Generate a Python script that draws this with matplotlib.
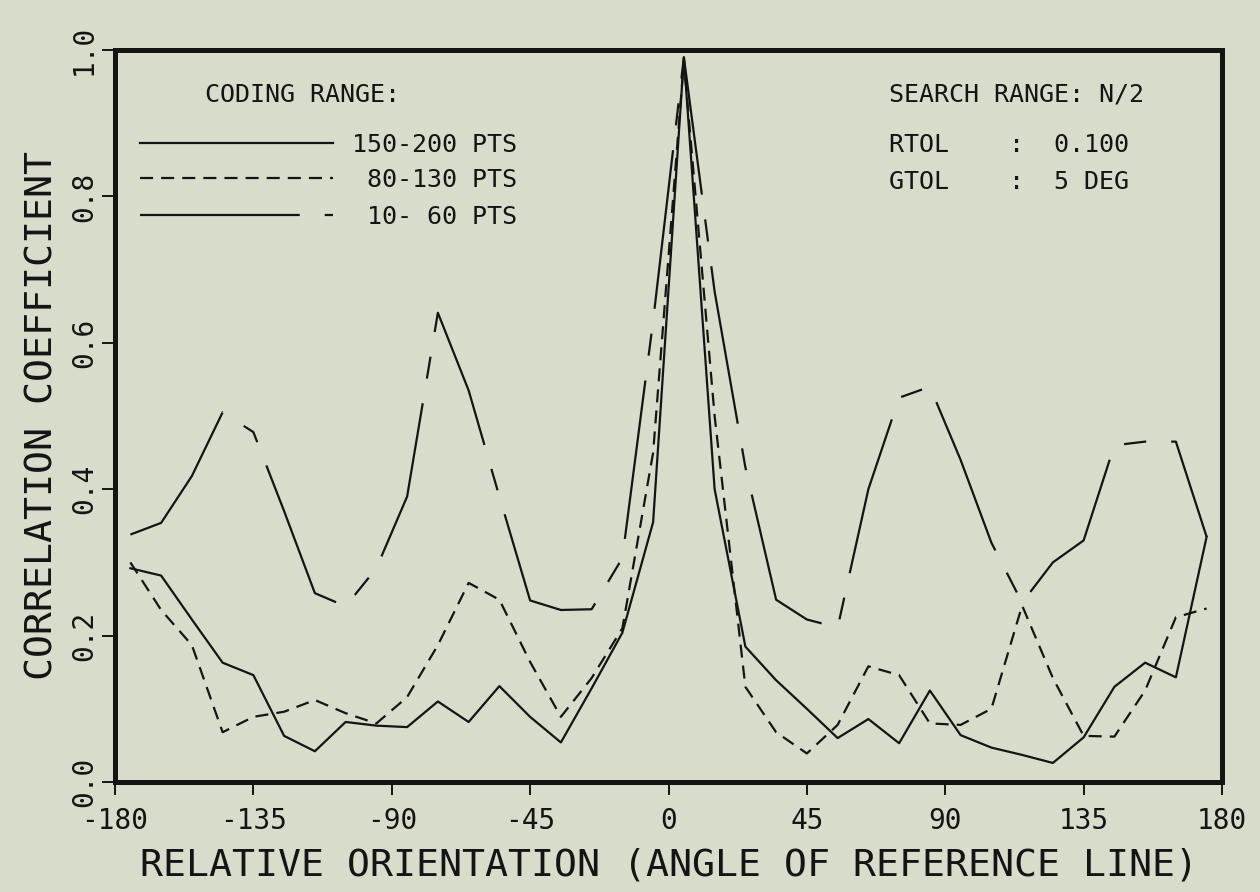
import matplotlib
matplotlib.use("Agg")
import matplotlib.pyplot as plt

# Vinkel (grader), var tionde grad från -175 till 175
angles = [-175, -165, -155, -145, -135, -125, -115, -105, -95, -85,
          -75, -65, -55, -45, -35, -25, -15, -5, 5, 15,
          25, 35, 45, 55, 65, 75, 85, 95, 105, 115,
          125, 135, 145, 155, 165, 175]

# Korrelationskoefficient för varje kodningsintervall
corr_150_200 = [0.292, 0.282, 0.222, 0.163, 0.146, 0.063, 0.042, 0.082, 0.077, 0.075,
                0.110, 0.082, 0.131, 0.089, 0.054, 0.128, 0.204, 0.355, 0.990, 0.400,
                0.185, 0.139, 0.100, 0.060, 0.086, 0.053, 0.125, 0.064, 0.047, 0.037,
                0.026, 0.061, 0.130, 0.163, 0.143, 0.335]

corr_80_130 = [0.300, 0.235, 0.187, 0.068, 0.089, 0.096, 0.112, 0.094, 0.080, 0.116,
               0.187, 0.272, 0.249, 0.164, 0.089, 0.142, 0.210, 0.450, 0.985, 0.500,
               0.130, 0.068, 0.039, 0.078, 0.158, 0.146, 0.080, 0.078, 0.100, 0.241,
               0.142, 0.063, 0.062, 0.125, 0.225, 0.237]

corr_10_60 = [0.338, 0.354, 0.418, 0.505, 0.478, 0.370, 0.258, 0.240, 0.292, 0.390,
              0.641, 0.535, 0.390, 0.248, 0.235, 0.236, 0.306, 0.630, 0.990, 0.670,
              0.430, 0.249, 0.222, 0.211, 0.400, 0.525, 0.540, 0.440, 0.327, 0.245,
              0.300, 0.330, 0.460, 0.465, 0.465, 0.335]

series_labels = ["150-200 PTS", " 80-130 PTS", " 10- 60 PTS"]
x_ticks = [-180, -135, -90, -45, 0, 45, 90, 135, 180]
y_ticks = [0.0, 0.2, 0.4, 0.6, 0.8, 1.0]

BG = "#d8dccb"
INK = "#141414"
FONT = "DejaVu Sans Mono"


def px_to_axes(px, py):
    """Omvandla pixelposition i figuren till axelkoordinater."""
    return (px - 115) / 1107.0, (782 - py) / 732.0


def plot_graph():
    plt.rcParams['font.family'] = FONT
    plt.rcParams['lines.scale_dashes'] = False

    fig = plt.figure(figsize=(12.6, 8.92), dpi=100, facecolor=BG)
    ax = fig.add_axes([115 / 1260, 1 - 782 / 892, 1107 / 1260, 732 / 892])
    ax.set_facecolor(BG)

    styles = [
        dict(linestyle='-'),
        dict(linestyle=(0, (9.4, 5.8))),
        dict(linestyle=(0, (115, 18, 16, 18))),
    ]
    series = [corr_150_200, corr_80_130, corr_10_60]

    for values, style in zip(series, styles):
        ax.plot(angles, values, color=INK, linewidth=1.6, **style)

    ax.set_xlim(-180, 180)
    ax.set_ylim(0, 1.0)
    ax.set_xticks(x_ticks)
    ax.set_xticklabels([str(t) for t in x_ticks])
    ax.set_yticks(y_ticks)
    ax.set_yticklabels([f"{t:.1f}" for t in y_ticks])

    for side in ax.spines.values():
        side.set_linewidth(3.6)
        side.set_color(INK)

    ax.tick_params(axis='both', direction='out', length=9.4, width=1.4, color=INK,
                   labelcolor=INK, labelsize=20)
    ax.tick_params(axis='x', pad=8.5)
    ax.tick_params(axis='y', pad=3)
    for lab in ax.get_yticklabels():
        lab.set_rotation(90)
        lab.set_verticalalignment('center')

    ax.set_xlabel("RELATIVE ORIENTATION (ANGLE OF REFERENCE LINE)", fontsize=27.5, color=INK)
    ax.xaxis.set_label_coords(0.5, -0.1134)
    ax.xaxis.label.set_verticalalignment('center')

    ax.set_ylabel("CORRELATION COEFFICIENT", fontsize=27.5, color=INK)
    ax.yaxis.set_label_coords(-0.0569, 0.5)
    ax.yaxis.label.set_verticalalignment('baseline')

    # Förklaring (ritad för hand för att få rätt placering)
    txt = dict(transform=ax.transAxes, fontsize=18, color=INK, ha='left', va='baseline')
    ax.text(*px_to_axes(205, 102), "CODING RANGE:", **txt)
    rows = [143, 178, 215]
    for label, style, row in zip(series_labels, styles, rows):
        x0, y0 = px_to_axes(140, row)
        x1, _ = px_to_axes(333, row)
        ax.plot([x0, x1], [y0, y0], transform=ax.transAxes, color=INK,
                linewidth=1.6, clip_on=False, **style)
        ax.text(*px_to_axes(352, row + 9), label, **txt)

    ax.text(*px_to_axes(889, 102), "SEARCH RANGE: N/2", **txt)
    ax.text(*px_to_axes(889, 152), "RTOL    :  0.100", **txt)
    ax.text(*px_to_axes(889, 189), "GTOL    :  5 DEG", **txt)

    fig.savefig("out.png", dpi=100, facecolor=BG)


def main():
    plot_graph()


if __name__ == "__main__":
    main()
